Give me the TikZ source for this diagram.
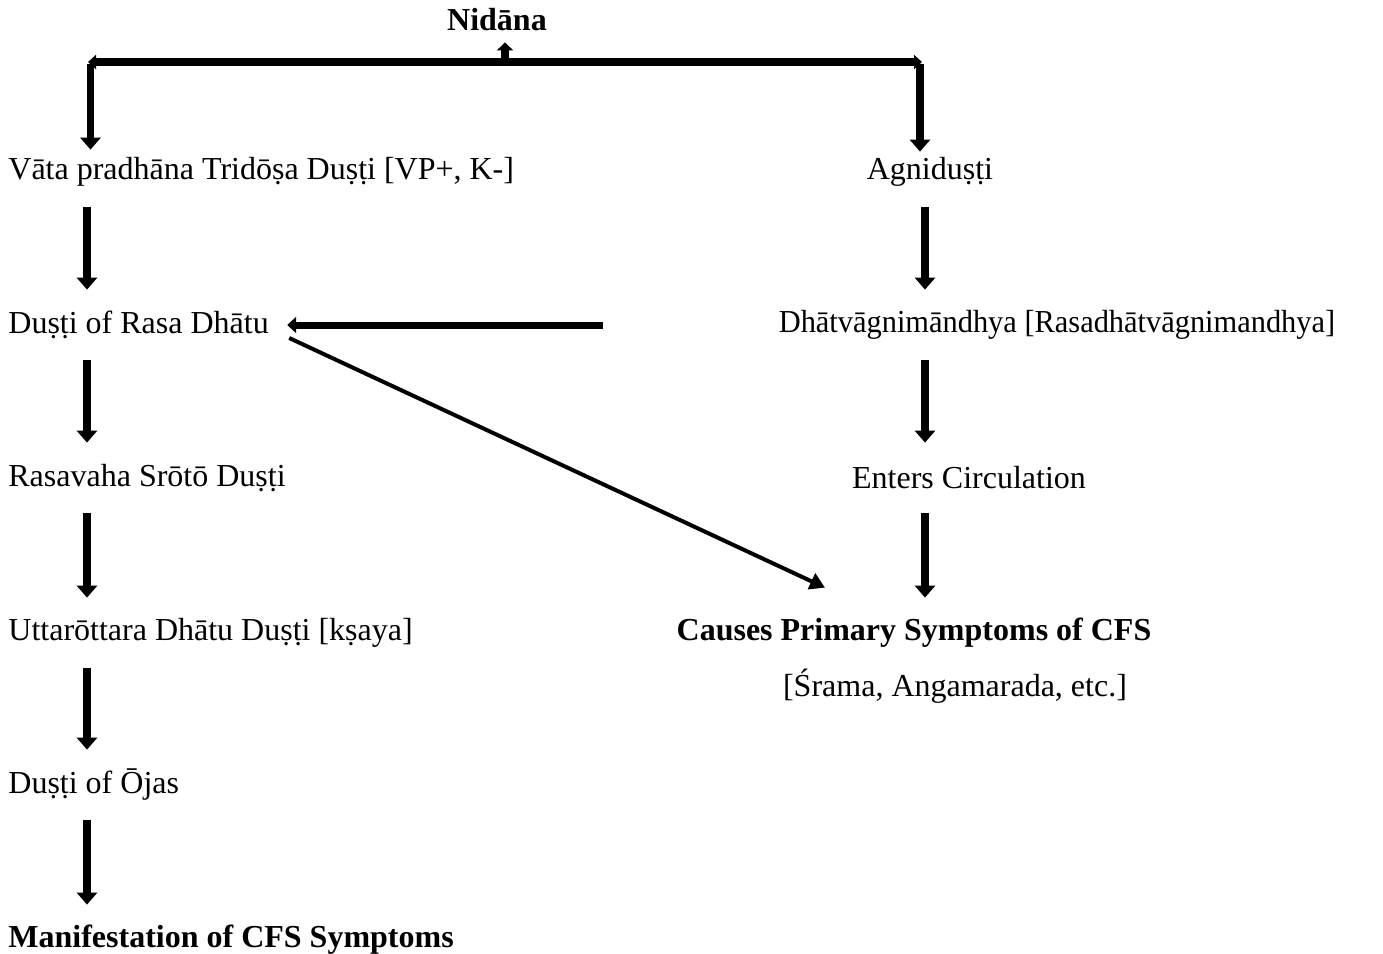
\documentclass[tikz,border=0pt]{standalone}
\usepackage{fontspec}
\setmainfont{Liberation Serif}
\usetikzlibrary{arrows.meta}
\newcommand{\rowht}{30pt}

\begin{document}
\begin{tikzpicture}[x=0.5pt,y=-0.5pt,
    every node/.style={font=\fontsize{16}{19}\selectfont, inner sep=0pt, minimum height=\rowht},
    bigarrow/.style={line width=3.8pt, -{Triangle[width=10pt,length=6pt]}, shorten <=2.5pt, shorten >=2.5pt},
    barline/.style={line width=4pt, {Triangle[width=7pt,length=4pt]}-{Triangle[width=7pt,length=4pt]}},
    thinarrow/.style={line width=2pt, -{Triangle[width=8.5pt,length=7.5pt]}}]
        \useasboundingbox (0,0) rectangle (1383,954);

        % top: Nidana and the bar
        \node (nidana) at (497,20) {\bfseries Nidāna};
        \coordinate (barL) at (88,62);
        \coordinate (barR) at (922,62);
        \coordinate (barM) at (505,62);
        \coordinate (topL) at (90.5,64);
        \coordinate (topR) at (920,64);
        \coordinate (colL) at (87,0);
        \coordinate (colR) at (925,0);

        % left column
        \node (vata)   at (8,172) [anchor=west] {Vāta pradhāna Tridōṣa Duṣṭi [VP+, K-]};
        \node (rasa)   at (8,325) [anchor=west] {Duṣṭi of Rasa Dhātu};
        \node (srotas) at (8,478) [anchor=west] {Rasavaha Srōtō Duṣṭi};
        \node (uttara) at (8,633) [anchor=west] {Uttarōttara Dhātu Duṣṭi [kṣaya]};
        \node (ojas)   at (8,785) [anchor=west] {Duṣṭi of Ōjas};
        \node (manif)  at (8,940) [anchor=west] {\bfseries Manifestation of CFS Symptoms};

        % right column
        \node (agni)   at (930,172)  {Agniduṣṭi};
        \node (dhatu)  at (1057,325) {\scalebox{0.95}[1]{Dhātvāgnimāndhya [Rasadhātvāgnimandhya]}};
        \node (enters) at (969,478)  {Enters Circulation};
        \node (causes) at (914,633)  {\bfseries Causes Primary Symptoms of CFS};
        \node (srama)  at (955,686)  {[Śrama, Angamarada, etc.]};

        \draw[barline] (barL) -- (barR);
        \draw[line width=4pt, -{Triangle[width=8pt,length=4pt]}, shorten >=-4pt] (barM) -- (barM |- nidana.south);
        \draw[bigarrow, shorten <=0pt, shorten >=-4pt] (topL) -- (vata.north -| topL);
        \draw[bigarrow, shorten <=0pt, shorten >=-5pt] (topR) -- (agni.north -| topR);

        \foreach \a/\b in {vata/rasa, rasa/srotas, srotas/uttara, uttara/ojas, ojas/manif}
                 \draw[bigarrow] (\a.south -| colL) -- (\b.north -| colL);
        \foreach \a/\b in {agni/dhatu, dhatu/enters, enters/causes}
                 \draw[bigarrow] (\a.south -| colR) -- (\b.north -| colR);

        \draw[bigarrow, line width=3.5pt, -{Triangle[width=8pt,length=4.5pt]}, shorten <=87.5pt, shorten >=9pt] (dhatu.west) -- (rasa.east);
        \draw[thinarrow] ([xshift=10pt,yshift=-6.5pt]rasa.east) -- ([xshift=-44.5pt,yshift=7.5pt]causes.north);
      \end{tikzpicture}
\end{document}
